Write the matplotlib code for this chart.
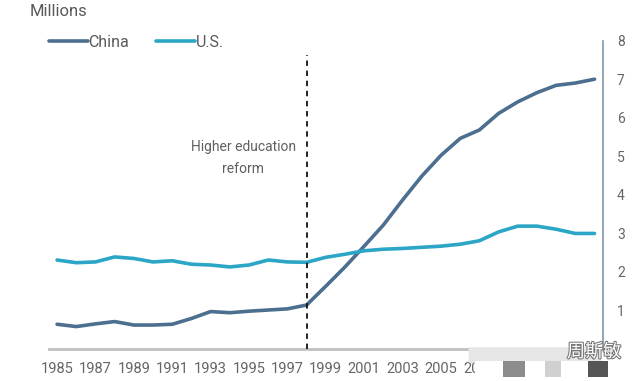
import matplotlib
matplotlib.use("Agg")
import matplotlib.pyplot as plt
from matplotlib.patches import Rectangle, FancyBboxPatch
import matplotlib.patheffects as pe

years = list(range(1985, 2014))
china = [0.63, 0.57, 0.64, 0.70, 0.61, 0.61, 0.63, 0.78, 0.96, 0.93, 0.97,
         1.00, 1.03, 1.13, 1.62, 2.12, 2.66, 3.21, 3.86, 4.48, 5.02, 5.46,
         5.68, 6.11, 6.41, 6.65, 6.84, 6.90, 7.00]
us = [2.30, 2.23, 2.25, 2.38, 2.34, 2.25, 2.28, 2.19, 2.17, 2.12, 2.17,
      2.30, 2.25, 2.24, 2.37, 2.45, 2.54, 2.58, 2.60, 2.63, 2.66, 2.71,
      2.80, 3.03, 3.18, 3.18, 3.10, 2.99, 2.99]
xtick_years = list(range(1985, 2014, 2))
yticks = [1, 2, 3, 4, 5, 6, 7, 8]
reform_year = 1998

plt.rcParams['font.family'] = ['Liberation Sans Narrow', 'Roboto', 'DejaVu Sans']

fig = plt.figure(figsize=(6.4, 3.81), dpi=100)
ax = fig.add_axes([49/640, 1-348.5/381, (603-49)/640, (348.5-40.7)/381])

c_china = '#4d6f8f'
c_us = '#2ba6c6'
ax.plot(years, china, color=c_china, lw=2.6, solid_capstyle='round', label='China', zorder=3)
ax.plot(years, us, color=c_us, lw=2.6, solid_capstyle='round', label='U.S.', zorder=3)

ax.vlines(reform_year, 0, 7.62, colors='#111111', lw=1.3, linestyles=(0, (3, 2.6)), zorder=4)
ax.text(1994.7, 4.96, 'Higher education\nreform', ha='center', va='center',
        fontsize=10, color='#606060', linespacing=1.75)

ax.set_xlim(1984.58, 2013.44)
ax.set_ylim(0, 8)
ax.set_xticks(xtick_years)
ax.set_xticklabels([str(y) for y in xtick_years], fontsize=10.5, color='#666666')
ax.yaxis.tick_right()
ax.set_yticks(yticks)
ax.set_yticklabels([str(v) for v in yticks], fontsize=10, color='#666666')
ax.tick_params(axis='both', length=0)
ax.tick_params(axis='x', pad=10)
ax.tick_params(axis='y', pad=10)
for s in ['top', 'left']:
    ax.spines[s].set_visible(False)
ax.spines['bottom'].set_color('#c0c0c0')
ax.spines['bottom'].set_linewidth(2)
ax.spines['right'].set_color('#7f97ad')
ax.spines['right'].set_linewidth(1.2)

fig.text(30/640, 1-12/381, 'Millions', fontsize=12, color='#595959', va='center', ha='left')
ax.legend(loc='upper left', bbox_to_anchor=(-7/640, 1+15/381), ncol=2, frameon=False,
          fontsize=11.5, labelcolor='#595959', handlelength=2.4, handletextpad=0.05,
          columnspacing=1.7, borderaxespad=0)

# watermark overlay
fig.patches.append(FancyBboxPatch((470/640, 1-362/381), 130/640, 14/381,
                                  boxstyle='round,pad=0.002', transform=fig.transFigure,
                                  fc='#e6e6e6', ec='none', zorder=10, figure=fig))
fig.patches.append(Rectangle((475/640, 0), 165/640, 20/381, transform=fig.transFigure,
                             fc='white', ec='none', zorder=10, figure=fig))
fig.patches.append(Rectangle((503/640, 4/381), 22/640, 16/381, transform=fig.transFigure,
                             fc='#8c8c8c', ec='none', zorder=11, figure=fig))
fig.patches.append(Rectangle((545/640, 4/381), 16/640, 16/381, transform=fig.transFigure,
                             fc='#d0d0d0', ec='none', zorder=11, figure=fig))
fig.patches.append(Rectangle((588/640, 4/381), 20/640, 16/381, transform=fig.transFigure,
                             fc='#555555', ec='none', zorder=11, figure=fig))
fig.text(594/640, 1-352/381, '周斯敏', fontsize=13, color='white', ha='center', va='center',
         family=['Noto Sans CJK SC', 'DejaVu Sans'], zorder=12,
         path_effects=[pe.withStroke(linewidth=1.5, foreground='#777777')])

fig.savefig('out.png', dpi=100)
